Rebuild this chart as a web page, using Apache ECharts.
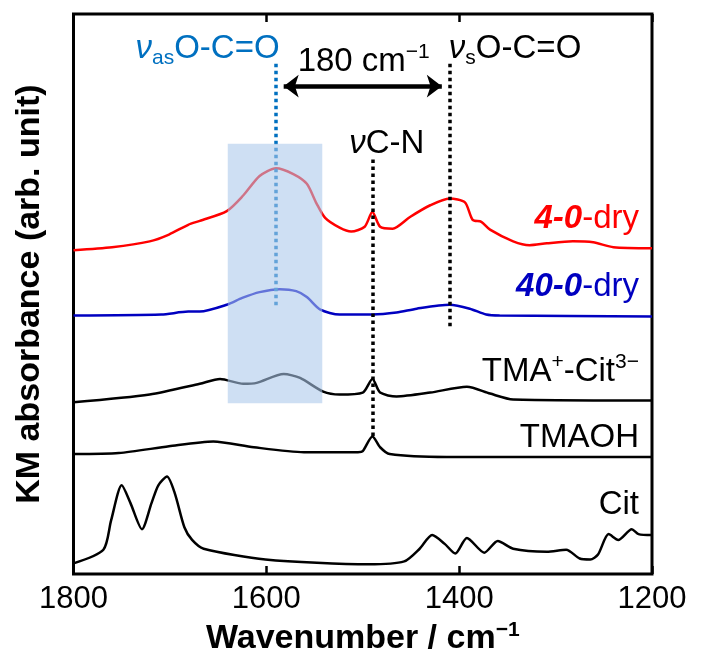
<!DOCTYPE html>
<html>
<head>
<meta charset="utf-8">
<script src="https://cdn.jsdelivr.net/npm/echarts@6/dist/echarts.min.js"></script>
<style>html,body{margin:0;padding:0;background:#fff;}#c{width:710px;height:663px;}</style>
</head>
<body>
<div id="c"></div>
<script>
// ---- data (wavenumber / cm-1, KM absorbance, arbitrary units with vertical offsets) ----
var xTicks = [1800, 1600, 1400, 1200];

var wn_4_0 = [1800,1760,1721,1701,1681,1669,1641,1624,1607,1590,1572,1558,1548,1539,1524,1512,1498,1490,1482,1469,1451,1430,1410,1394,1386,1377,1368,1344,1327,1309,1282,1261,1240,1200];
var km_4_0 = [3.32,3.35,3.41,3.48,3.58,3.62,3.72,3.88,4.08,4.16,4.10,4.00,3.80,3.65,3.55,3.51,3.56,3.71,3.56,3.54,3.66,3.78,3.85,3.81,3.63,3.61,3.53,3.41,3.37,3.39,3.41,3.40,3.35,3.34];

var wn_40_0 = [1800,1709,1681,1669,1641,1625,1607,1586,1569,1558,1544,1524,1490,1465,1444,1410,1389,1372,1358,1200];
var km_40_0 = [2.65,2.66,2.69,2.69,2.76,2.83,2.89,2.92,2.90,2.84,2.71,2.66,2.66,2.68,2.72,2.76,2.72,2.66,2.65,2.64];

var wn_tma = [1800,1721,1669,1648,1624,1610,1582,1565,1541,1524,1500,1490,1482,1465,1430,1392,1368,1344,1200];
var km_tma = [1.76,1.84,1.95,2.00,1.95,1.96,2.05,2.01,1.87,1.84,1.86,2.00,1.86,1.82,1.86,1.92,1.85,1.79,1.78];

var wn_tmaoh = [1800,1753,1701,1655,1613,1561,1505,1500,1490,1482,1472,1413,1200];
var km_tmaoh = [1.23,1.24,1.31,1.36,1.30,1.25,1.25,1.26,1.41,1.30,1.23,1.20,1.20];

var wn_cit = [1800,1769,1761,1750,1741,1729,1719,1712,1703,1695,1685,1677,1665,1601,1494,1457,1441,1428,1415,1404,1392,1374,1360,1344,1309,1289,1275,1264,1256,1245,1235,1221,1214,1200];
var km_cit = [0.11,0.25,0.55,0.91,0.73,0.46,0.73,0.91,1.00,0.83,0.48,0.35,0.26,0.15,0.10,0.13,0.26,0.40,0.31,0.21,0.37,0.22,0.34,0.26,0.23,0.25,0.16,0.15,0.20,0.41,0.35,0.46,0.41,0.40];

// band positions (cm-1)
var nuAs = 1590, nuS = 1410, nuCN = 1490;
// highlighted region [wn1, wn2, kmTop, kmBottom]
var shadeBox = [1640, 1542, 4.41, 1.75];

// ---- chart ----
var FONT = 'Liberation Sans, Arial, sans-serif';
function pairs(xs, ys){ return xs.map(function(x,i){ return [x, ys[i]]; }); }

var chart = echarts.init(document.getElementById('c'), null, {renderer:'canvas'});
var lineBase = {type:'line', showSymbol:false, smooth:0.25, silent:true, animation:false};

var dotBlue = {color:'#0070c0', width:3.5, type:[3.5,3.5], cap:'butt'};
var dotBlack = {color:'#000', width:3.5, type:[3.5,3.5], cap:'butt'};

var option = {
  animation:false,
  grid:{left:73.5, right:58, top:14, bottom:75, show:true, borderColor:'#000', borderWidth:3, backgroundColor:'transparent'},
  xAxis:[{
    type:'value', min:1200, max:1800, interval:200, inverse:true, position:'bottom',
    axisLine:{show:false}, splitLine:{show:false},
    axisTick:{show:true, inside:true, length:8, lineStyle:{color:'#000', width:2.5}},
    axisLabel:{fontSize:31, color:'#000', fontFamily:FONT, margin:10, formatter:function(v){ return String(v); }},
    name:'Wavenumber / cm{sup|\u22121}', nameLocation:'middle', nameGap:34,
    nameTextStyle:{fontSize:34, fontWeight:'bold', color:'#000', fontFamily:FONT, lineHeight:38,
      rich:{sup:{fontSize:21, fontWeight:'bold', color:'#000', fontFamily:FONT, verticalAlign:'top', lineHeight:38}}}
  },{
    type:'value', min:1200, max:1800, interval:200, inverse:true, position:'top',
    axisLine:{show:false}, splitLine:{show:false}, axisLabel:{show:false},
    axisTick:{show:true, inside:true, length:8, lineStyle:{color:'#000', width:2.5}}
  }],
  yAxis:[{
    type:'value', min:0, max:5.74,
    axisLine:{show:false}, axisTick:{show:false}, axisLabel:{show:false}, splitLine:{show:false},
    name:'KM absorbance (arb. unit)', nameLocation:'middle', nameGap:27,
    nameTextStyle:{fontSize:34, fontWeight:'bold', color:'#000', fontFamily:FONT}
  }],
  series:[
    Object.assign({}, lineBase, {name:'4-0-dry', data:pairs(wn_4_0, km_4_0), lineStyle:{color:'#ff0000', width:2.5}, itemStyle:{color:'#ff0000'}, z:3}),
    Object.assign({}, lineBase, {name:'40-0-dry', data:pairs(wn_40_0, km_40_0), lineStyle:{color:'#0000c0', width:2.5}, itemStyle:{color:'#0000c0'}, z:3}),
    Object.assign({}, lineBase, {name:'TMA+-Cit3-', data:pairs(wn_tma, km_tma), lineStyle:{color:'#000', width:2.5}, itemStyle:{color:'#000'}, z:3}),
    Object.assign({}, lineBase, {name:'TMAOH', data:pairs(wn_tmaoh, km_tmaoh), lineStyle:{color:'#000', width:2.5}, itemStyle:{color:'#000'}, z:3,
      markLine:{silent:true, symbol:['none','none'], label:{show:false}, animation:false,
        data:[
          [{coord:[nuAs, 5.23], lineStyle:dotBlue}, {coord:[nuAs, 2.75]}],
          [{coord:[nuS, 5.23], lineStyle:dotBlack}, {coord:[nuS, 2.51]}],
          [{coord:[nuCN, 4.25], lineStyle:dotBlack}, {coord:[nuCN, 1.38]}]
        ]}}),
    Object.assign({}, lineBase, {name:'Cit', data:pairs(wn_cit, km_cit), lineStyle:{color:'#000', width:2.5}, itemStyle:{color:'#000'}, z:3,
      markLine:{silent:true, symbol:['arrow','arrow'], symbolSize:[17,15], label:{show:false}, animation:false,
        lineStyle:{color:'#000', width:4.5, type:'solid'},
        data:[[{coord:[nuAs - 8, 5.00]}, {coord:[nuS + 8, 5.00]}]]}}),
    {type:'custom', silent:true, z:10, animation:false,
      data:[shadeBox],
      renderItem:function(params, api){
        var p1 = api.coord([api.value(0), api.value(2)]);
        var p2 = api.coord([api.value(1), api.value(3)]);
        return {type:'rect', shape:{x:Math.min(p1[0],p2[0]), y:Math.min(p1[1],p2[1]), width:Math.abs(p2[0]-p1[0]), height:Math.abs(p2[1]-p1[1])},
          style:{fill:'rgba(170,200,234,0.58)'}};
      },
      encode:{x:[0,1], y:[2,3]}
    }
  ]
};
chart.setOption(option);

// ---- annotations anchored in data space ----
var annos = [
  {at:[1661, 5.38], align:'center', text:'{nu|\u03bd}{sub|as}{b|O-C=O}', color:'#0070c0'},
  {at:[1499, 5.25], align:'center', text:'{b|180 cm}{sup|\u22121}', color:'#000'},
  {at:[1342, 5.38], align:'center', text:'{nu|\u03bd}{sub|s}{b|O-C=O}', color:'#000'},
  {at:[1475, 4.405], align:'center', text:'{nu|\u03bd}{b|C-N}', color:'#000'},
  {at:[1213.5, 3.64], align:'right', text:'{bi|4-0}{b|-dry}', color:'#ff0000'},
  {at:[1213.5, 2.94], align:'right', text:'{bi|40-0}{b|-dry}', color:'#0000c0'},
  {at:[1213.5, 2.07], align:'right', text:'{b|TMA}{sup|+}{b|-Cit}{sup|3\u2212}', color:'#000'},
  {at:[1213.5, 1.40], align:'right', text:'{b|TMAOH}', color:'#000'},
  {at:[1213.5, 0.71], align:'right', text:'{b|Cit}', color:'#000'}
];
function richFor(color){
  var LH = 40;
  return {
    b:{fontSize:33, fontFamily:FONT, fill:color, color:color, lineHeight:LH, verticalAlign:'middle'},
    bi:{fontSize:33, fontFamily:FONT, fontWeight:'bold', fontStyle:'italic', fill:color, color:color, lineHeight:LH, verticalAlign:'middle'},
    nu:{fontSize:33, fontFamily:FONT, fontStyle:'italic', fill:color, color:color, lineHeight:LH, verticalAlign:'middle'},
    sub:{fontSize:21, fontFamily:FONT, fill:color, color:color, lineHeight:LH, verticalAlign:'bottom'},
    sup:{fontSize:21, fontFamily:FONT, fill:color, color:color, lineHeight:LH, verticalAlign:'top'}
  };
}
var g = annos.map(function(a){
  var p = chart.convertToPixel({xAxisIndex:0, yAxisIndex:0}, a.at);
  return {type:'text', x:p[0], y:p[1], z:20, silent:true,
    style:{text:a.text, rich:richFor(a.color), fill:a.color, fontSize:33, fontFamily:FONT, align:a.align, verticalAlign:'middle'}};
});
chart.setOption({graphic:g});
</script>
</body>
</html>
